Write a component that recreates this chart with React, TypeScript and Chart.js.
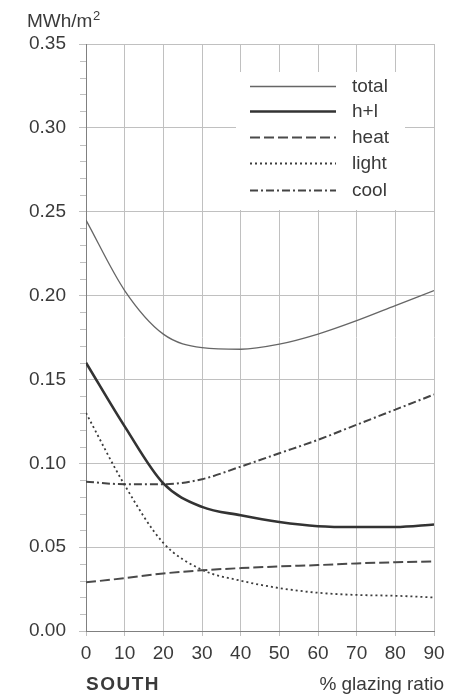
import { useEffect, useRef } from 'react';
import { Chart, registerables } from 'chart.js';

Chart.register(...registerables);

const glazing = [0, 10, 20, 30, 40, 50, 60, 70, 80, 90];
const total = [0.245, 0.203, 0.177, 0.169, 0.168, 0.171, 0.177, 0.185, 0.194, 0.203];
const hl = [0.16, 0.122, 0.088, 0.074, 0.069, 0.065, 0.0625, 0.062, 0.062, 0.0635];
const heat = [0.029, 0.0315, 0.0343, 0.0362, 0.0375, 0.0385, 0.0393, 0.0403, 0.041, 0.0415];
const light = [0.13, 0.087, 0.0525, 0.0365, 0.03, 0.0256, 0.0228, 0.0215, 0.021, 0.02];
const cool = [0.089, 0.0875, 0.0875, 0.0905, 0.098, 0.106, 0.114, 0.123, 0.132, 0.141];

const seriesNames = ['total', 'h+l', 'heat', 'light', 'cool'];
const yUnit = 'MWh/m';
const yUnitSup = '2';
const xTitle = '% glazing ratio';
const panelTitle = 'SOUTH';

const FONT = '"Liberation Sans", Arial, Helvetica, sans-serif';
const TEXT = '#3a3a3a';
const GRID = '#c0c0c0';

const pts = (ys: number[]) => glazing.map((x, i) => ({ x, y: ys[i] }));

const extras = {
  id: 'extras',
  afterDraw(chart: any) {
    const ctx = chart.ctx as CanvasRenderingContext2D;
    const y = chart.scales.y;
    const area = chart.chartArea;
    ctx.save();
    // minor ticks
    ctx.strokeStyle = GRID;
    ctx.lineWidth = 1;
    for (let i = 0; i <= 35; i++) {
      if (i % 5 === 0) continue;
      const py = Math.round(y.getPixelForValue(i / 100)) + 0.5;
      ctx.beginPath();
      ctx.moveTo(area.left - 6, py);
      ctx.lineTo(area.left, py);
      ctx.stroke();
    }
    // legend
    const lx = 236, ly = 72, lw = 169, lh = 138;
    ctx.fillStyle = '#ffffff';
    ctx.fillRect(lx, ly, lw, lh);
    const rows = [86, 111, 137, 163, 190];
    chart.data.datasets.forEach((ds: any, i: number) => {
      const yy = rows[i] + 0.5;
      ctx.save();
      ctx.strokeStyle = ds.borderColor;
      ctx.lineWidth = ds.borderWidth;
      ctx.setLineDash(ds.borderDash || []);
      ctx.beginPath();
      ctx.moveTo(250, yy);
      ctx.lineTo(336, yy);
      ctx.stroke();
      ctx.restore();
      ctx.fillStyle = TEXT;
      ctx.font = `19px ${FONT}`;
      ctx.textBaseline = 'middle';
      ctx.textAlign = 'left';
      ctx.fillText(ds.label, 352, rows[i] + 1);
    });
    // unit label
    ctx.fillStyle = TEXT;
    ctx.textBaseline = 'alphabetic';
    ctx.textAlign = 'left';
    ctx.font = `19px ${FONT}`;
    ctx.fillText(yUnit, 27, 27);
    const w = ctx.measureText(yUnit).width;
    ctx.font = `13px ${FONT}`;
    ctx.fillText(yUnitSup, 27 + w + 0.5, 20);
    // panel title
    ctx.font = `bold 19px ${FONT}`;
    (ctx as any).letterSpacing = '1.5px';
    ctx.fillText(panelTitle, 86, 690);
    (ctx as any).letterSpacing = '0px';
    ctx.font = `19px ${FONT}`;
    ctx.textAlign = 'right';
    ctx.fillText(xTitle, 444, 690);
    ctx.restore();
  },
};

export default function App() {
  const ref = useRef<HTMLCanvasElement>(null);
  useEffect(() => {
    document.body.style.margin = '0';
    const chart = new Chart(ref.current!, {
      type: 'line',
      data: {
        datasets: [
          { label: seriesNames[0], data: pts(total), borderColor: '#666666', borderWidth: 1.3, borderDash: [] },
          { label: seriesNames[1], data: pts(hl), borderColor: '#333333', borderWidth: 2.6, borderDash: [] },
          { label: seriesNames[2], data: pts(heat), borderColor: '#4a4a4a', borderWidth: 2, borderDash: [10, 4] },
          { label: seriesNames[3], data: pts(light), borderColor: '#3c3c3c', borderWidth: 1.8, borderDash: [2, 3] },
          { label: seriesNames[4], data: pts(cool), borderColor: '#444444', borderWidth: 2, borderDash: [8, 3, 2, 3] },
        ].map((d) => ({ ...d, pointRadius: 0, fill: false, cubicInterpolationMode: 'monotone' as const })),
      },
      options: {
        responsive: false,
        animation: false,
        layout: { padding: { top: 44, right: 18, left: 0, bottom: 0 } },
        plugins: { legend: { display: false }, tooltip: { enabled: false } },
        scales: {
          x: {
            type: 'linear',
            min: 0,
            max: 90,
            ticks: { stepSize: 10, color: TEXT, font: { size: 19, family: FONT }, padding: 6, maxRotation: 0 },
            grid: { color: GRID, tickLength: 5 },
            border: { color: '#808080' },
            afterFit: (s: any) => { s.height = 64; },
          },
          y: {
            type: 'linear',
            min: 0,
            max: 0.35,
            ticks: { stepSize: 0.05, color: TEXT, font: { size: 19, family: FONT }, padding: 13, callback: (v: any) => Number(v).toFixed(2) },
            grid: { color: GRID, tickLength: 7 },
            border: { color: '#808080' },
            afterFit: (s: any) => { s.width = 86; },
          },
        },
      },
      plugins: [extras],
    });
    return () => chart.destroy();
  }, []);
  return <canvas ref={ref} width={452} height={695} style={{ display: 'block' }} />;
}
